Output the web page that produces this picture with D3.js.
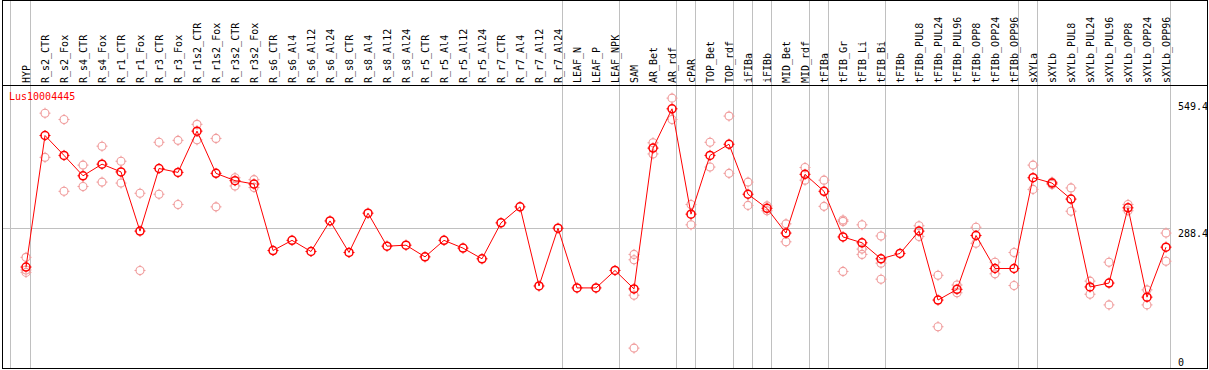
<!DOCTYPE html>
<html>
<head>
<meta charset="utf-8">
<script src="https://cdn.jsdelivr.net/npm/d3@7.9.0/dist/d3.min.js"></script>
<style>
  body { margin: 0; background: #fff; }
  svg text { font-family: "DejaVu Sans Mono", monospace; font-size: 10px; }
</style>
</head>
<body>
<svg id="chart" width="1209" height="370"></svg>
<script>
// Expression profile for one gene across tissues / treatments

const gene = 'Lus10004445';

const samples = [
  'HYP', 'R_s2_CTR', 'R_s2_Fox', 'R_s4_CTR', 'R_s4_Fox', 'R_r1_CTR', 'R_r1_Fox',
  'R_r3_CTR', 'R_r3_Fox', 'R_r1s2_CTR', 'R_r1s2_Fox', 'R_r3s2_CTR', 'R_r3s2_Fox',
  'R_s6_CTR', 'R_s6_Al4', 'R_s6_Al12', 'R_s6_Al24', 'R_s8_CTR', 'R_s8_Al4',
  'R_s8_Al12', 'R_s8_Al24', 'R_r5_CTR', 'R_r5_Al4', 'R_r5_Al12', 'R_r5_Al24',
  'R_r7_CTR', 'R_r7_Al4', 'R_r7_Al12', 'R_r7_Al24', 'LEAF_N', 'LEAF_P', 'LEAF_NPK',
  'SAM', 'AR_Bet', 'AR_rdf', 'cPAR', 'TOP_Bet', 'TOP_rdf', 'iFIBa', 'iFIBb',
  'MID_Bet', 'MID_rdf', 'tFIBa', 'tFIB_Gr', 'tFIB_Li', 'tFIB_Bi', 'tFIBb',
  'tFIBb_PUL8', 'tFIBb_PUL24', 'tFIBb_PUL96', 'tFIBb_OPP8', 'tFIBb_OPP24', 'tFIBb_OPP96',
  'sXYLa', 'sXYLb', 'sXYLb_PUL8', 'sXYLb_PUL24', 'sXYLb_PUL96', 'sXYLb_OPP8',
  'sXYLb_OPP24', 'sXYLb_OPP96'
];

// mean expression per sample
const means = [
  208, 479, 438, 396, 420, 404, 282, 411, 403, 488, 401, 386, 379,
  242, 263, 240, 303, 238, 319, 251, 253, 229, 263, 247, 225,
  299, 332, 169, 288, 165, 165, 201,
  163, 453, 534, 317, 438, 461, 358, 329,
  278, 399, 364, 270, 258, 225, 236,
  282, 140, 162, 273, 205, 205,
  392, 381, 348, 167, 175, 330, 146, 249
];

// individual replicates (empty where none are shown)
const replicates = [
  [228, 202, 197], [525, 434], [512, 364], [418, 374], [457, 383], [426, 381], [360, 201],
  [465, 358], [469, 337], [502, 470], [473, 332], [392, 375], [388, 372],
  [], [], [], [], [], [], [], [], [], [], [], [],
  [], [], [], [], [], [], [],
  [234, 223, 150, 41], [464, 441], [556, 512], [337, 295], [465, 414], [519, 401], [383, 335], [334, 324],
  [297, 260], [413, 387], [387, 333], [305, 302, 199], [295, 245, 234], [272, 216, 183], [],
  [293, 271], [191, 85], [171, 155], [290, 257], [218, 194], [238, 170],
  [418, 368], [383, 378], [371, 323], [179, 152], [218, 130], [337, 324], [161, 130], [278, 220]
];

// a grey separator is drawn after each of these samples
const groupEnds = [
  'HYP', 'R_r7_Al24', 'LEAF_NPK', 'AR_rdf', 'cPAR', 'TOP_rdf', 'iFIBa', 'iFIBb',
  'MID_rdf', 'tFIBa', 'tFIB_Bi', 'tFIBb_OPP96', 'sXYLa', 'sXYLb_OPP96'
];

const maxValue = 549.4;

const svg = d3.select('#chart');
const x = d3.scalePoint().domain(samples).range([26, 1166]);
const y = d3.scaleLinear().domain([0, maxValue * 1.05]).range([368, 88]);

const grid = '#c0c0c0';
const red = '#ff0000';
const pale = '#f09c9c';

// vertical separators (full height, through the header)
let sepX = [10.5].concat(groupEnds.map((s) => Math.floor(x(s) + 4.7) + 0.5));
sepX.forEach((sx) => {
  svg.append('line')
    .attr('x1', sx).attr('x2', sx)
    .attr('y1', 0).attr('y2', 368)
    .attr('stroke', grid)
    .attr('shape-rendering', 'crispEdges');
});

// horizontal mid line
let midY = Math.round(y(maxValue * 0.525)) + 0.5;
svg.append('line')
  .attr('x1', 2).attr('x2', 1170.5)
  .attr('y1', midY).attr('y2', midY)
  .attr('stroke', grid)
  .attr('shape-rendering', 'crispEdges');

// frame and header rule
svg.append('rect')
  .attr('x', 2.5).attr('y', 0.5)
  .attr('width', 1205).attr('height', 368)
  .attr('fill', 'none')
  .attr('stroke', '#000')
  .attr('shape-rendering', 'crispEdges');

svg.append('line')
  .attr('x1', 2).attr('x2', 1208)
  .attr('y1', 85.5).attr('y2', 85.5)
  .attr('stroke', '#000')
  .attr('shape-rendering', 'crispEdges');

// rotated sample labels
svg.selectAll('text.sample')
  .data(samples)
  .join('text')
  .attr('class', 'sample')
  .attr('transform', (d) => `translate(${x(d) + 3.5},83) rotate(-90)`)
  .attr('fill', '#000')
  .text((d) => d);

// gene name
svg.append('text')
  .attr('x', 9).attr('y', 100)
  .attr('fill', red)
  .text(gene);

// value labels on the right
const yLabels = [
  { v: maxValue, dy: 9 },
  { v: +(maxValue * 0.525).toFixed(1), dy: 8.5 },
  { v: 0, dy: -2.5 }
];
yLabels.forEach((l) => {
  svg.append('text')
    .attr('x', 1178)
    .attr('y', y(l.v) + l.dy)
    .attr('fill', '#000')
    .text(l.v);
});

// marker: circle with small ticks at the four compass points
function marker(g, cx, cy, color, w) {
  g.append('circle')
    .attr('cx', cx).attr('cy', cy).attr('r', 4)
    .attr('fill', 'none')
    .attr('stroke', color)
    .attr('stroke-width', w);
  g.append('path')
    .attr('d', `M${cx},${cy - 5.5}V${cy - 3.5}M${cx},${cy + 3.5}V${cy + 5.5}` +
      `M${cx - 5.5},${cy}H${cx - 3.5}M${cx + 3.5},${cy}H${cx + 5.5}`)
    .attr('stroke', color)
    .attr('stroke-width', 1);
}

// replicates
let repLayer = svg.append('g');
replicates.forEach((list, i) => {
  list.forEach((v) => marker(repLayer, x(samples[i]), y(v), pale, 1.1));
});

// mean line
let line = d3.line()
  .x((d, i) => x(samples[i]))
  .y((d) => y(d));

svg.append('path')
  .datum(means)
  .attr('d', line)
  .attr('fill', 'none')
  .attr('stroke', red)
  .attr('stroke-width', 1);

// mean markers
let meanLayer = svg.append('g');
means.forEach((v, i) => marker(meanLayer, x(samples[i]), y(v), red, 1.5));
</script>
</body>
</html>
